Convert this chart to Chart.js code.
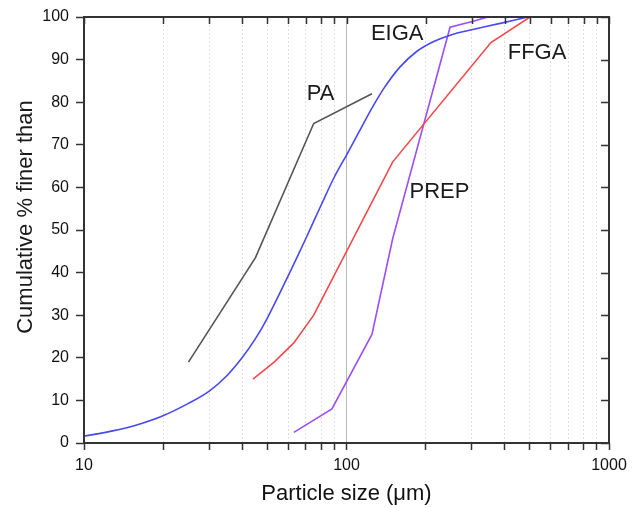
<!DOCTYPE html>
<html>
<head>
<meta charset="utf-8">
<script src="https://cdn.jsdelivr.net/npm/chart.js@4"></script>
<style>
  html, body { margin: 0; padding: 0; background: #ffffff; }
  #wrap { width: 638px; height: 508px; position: relative; }
</style>
</head>
<body>
<div id="wrap"><canvas id="c"></canvas></div>
<script>
// ---- Data (particle size in µm, cumulative % finer than) ----
const paSizes   = [25, 45, 75, 125];
const paValues  = [19, 43.5, 75, 82];

const eigaSizes  = [10, 13, 16, 20, 25, 30, 35, 40, 45, 50, 60, 70, 80, 90, 100, 112, 125, 140, 160, 185, 214, 250, 300, 385, 490];
const eigaValues = [1.6, 2.9, 4.3, 6.4, 9.3, 12.2, 15.8, 20, 24.5, 29.4, 39.3, 48, 55.8, 62.5, 67.6, 73.2, 78.6, 83.6, 88.3, 91.9, 94.2, 95.8, 97, 98.5, 100];

const ffgaSizes  = [44, 53, 63, 75, 150, 355, 500];
const ffgaValues = [15, 19, 23.5, 30, 66, 94, 100];

const prepSizes  = [63, 88, 125, 150, 248, 304, 345];
const prepValues = [2.5, 8, 25.5, 48, 97.6, 99, 100];

const xTickValues = [10, 20, 30, 40, 50, 60, 70, 80, 90, 100, 200, 300, 400, 500, 600, 700, 800, 900, 1000];
const xLabelValues = [10, 100, 1000];

const curveLabels = [
  { text: 'EIGA', x: 156, y: 96.0 },
  { text: 'PA',   x: 79.6, y: 81.9 },
  { text: 'FFGA', x: 532, y: 91.6 },
  { text: 'PREP', x: 226, y: 59.0 }
];

function pts(xs, ys) { return xs.map((x, i) => ({ x: x, y: ys[i] })); }

const FONT = '"Liberation Sans", Arial, sans-serif';

const framePlugin = {
  id: 'frame',
  afterDraw(chart) {
    const { ctx, chartArea: a, scales } = chart;
    const xs = scales.x, ys = scales.y;
    ctx.save();
    // mirrored ticks top (pointing down) and right (pointing left)
    ctx.strokeStyle = '#333';
    ctx.lineWidth = 1.5;
    ctx.beginPath();
    xTickValues.forEach(v => {
      const px = Math.round(xs.getPixelForValue(v)) + 0.5;
      ctx.moveTo(px, a.top);
      ctx.lineTo(px, a.top + 7);
    });
    for (let v = 0; v <= 100; v += 10) {
      const py = Math.round(ys.getPixelForValue(v)) + 0.5;
      ctx.moveTo(a.right, py);
      ctx.lineTo(a.right - 8, py);
    }
    ctx.stroke();
    // frame
    ctx.lineWidth = 2;
    ctx.strokeStyle = '#333';
    ctx.strokeRect(a.left, a.top, a.right - a.left, a.bottom - a.top);
    // curve labels
    ctx.fillStyle = '#1a1a1a';
    ctx.font = '22px ' + FONT;
    ctx.textAlign = 'center';
    ctx.textBaseline = 'middle';
    curveLabels.forEach(l => {
      ctx.fillText(l.text, xs.getPixelForValue(l.x), ys.getPixelForValue(l.y));
    });
    // y axis title
    ctx.save();
    ctx.translate(26, 217);
    ctx.rotate(-Math.PI / 2);
    ctx.fillText('Cumulative % finer than', 0, 0);
    ctx.restore();
    ctx.restore();
  }
};

const lineDs = (label, xs, ys, color, extra) => Object.assign({
  label: label,
  data: pts(xs, ys),
  showLine: true,
  borderColor: color,
  backgroundColor: color,
  borderWidth: 1.6,
  pointRadius: 0,
  fill: false,
  tension: 0
}, extra || {});

new Chart(document.getElementById('c'), {
  type: 'scatter',
  data: {
    datasets: [
      lineDs('PA', paSizes, paValues, '#555555'),
      lineDs('EIGA', eigaSizes, eigaValues, '#4848f4', { tension: 0.35 }),
      lineDs('FFGA', ffgaSizes, ffgaValues, '#f4484c'),
      lineDs('PREP', prepSizes, prepValues, '#9d4ef6')
    ]
  },
  options: {
    responsive: true,
    maintainAspectRatio: false,
    animation: false,
    layout: { padding: { top: 17, right: 29, left: 0, bottom: 0 } },
    plugins: {
      legend: { display: false },
      tooltip: { enabled: false }
    },
    scales: {
      x: {
        type: 'logarithmic',
        min: 10,
        max: 1000,
        afterBuildTicks(scale) { scale.ticks = xTickValues.map(v => ({ value: v })); },
        afterFit(scale) { scale.height = 65; },
        ticks: {
          autoSkip: false,
          maxRotation: 0,
          padding: 6,
          color: '#111',
          font: { family: FONT, size: 16 },
          callback: (v) => xLabelValues.includes(v) ? String(v) : ''
        },
        grid: {
          drawOnChartArea: true,
          drawTicks: true,
          tickLength: 7,
          tickWidth: 1.5,
          tickColor: '#333',
          lineWidth: 1,
          color: (ctx) => {
            const v = ctx.tick && ctx.tick.value;
            if (v === 100) return '#b8b8b8';
            if (v === 10 || v === 1000) return 'rgba(0,0,0,0)';
            return '#e0e0e0';
          }
        },
        border: {
          display: false,
          dash: (ctx) => (ctx.tick && ctx.tick.value === 100) ? [] : [2, 2]
        },
        title: {
          display: true,
          text: 'Particle size (\u03BCm)',
          color: '#111',
          font: { family: FONT, size: 22 },
          padding: { top: 0, bottom: 1 }
        }
      },
      y: {
        min: 0,
        max: 100,
        afterFit(scale) { scale.width = 84; },
        ticks: {
          stepSize: 10,
          padding: 7,
          color: '#111',
          font: { family: FONT, size: 16 }
        },
        grid: {
          drawOnChartArea: false,
          drawTicks: true,
          tickLength: 8,
          tickWidth: 1.5,
          tickColor: '#333'
        },
        border: { display: false }
      }
    }
  },
  plugins: [framePlugin]
});
</script>
</body>
</html>
